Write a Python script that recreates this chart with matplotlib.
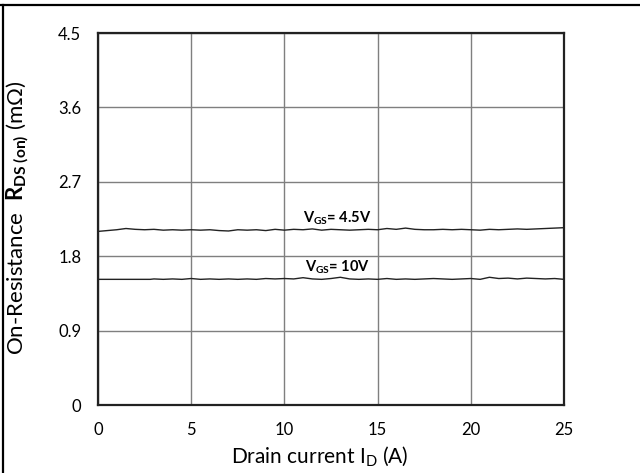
import matplotlib
matplotlib.use("Agg")
import matplotlib.pyplot as plt
from matplotlib.lines import Line2D

plt.rcParams['font.family'] = ['Lato', 'DejaVu Sans']
plt.rcParams['mathtext.fontset'] = 'custom'
plt.rcParams['mathtext.rm'] = 'Lato'
plt.rcParams['mathtext.bf'] = 'Lato:bold'
plt.rcParams['mathtext.it'] = 'Lato:italic'

# Drain current (A)
id_45 = [0.0, 0.5, 1.0, 1.5, 2.0, 2.5, 3.0, 3.5, 4.0, 4.5, 5.0, 5.5, 6.0, 6.5, 7.0,
         7.5, 8.0, 8.5, 9.0, 9.5, 10.0, 10.5, 11.0, 11.5, 12.0, 12.5, 13.0, 13.5,
         14.0, 14.5, 15.0, 15.5, 16.0, 16.5, 17.0, 17.5, 18.0, 18.5, 19.0, 19.5,
         20.0, 20.5, 21.0, 21.5, 22.0, 22.5, 23.0, 23.5, 24.0, 24.5, 25.0]
rds_45 = [2.10, 2.11, 2.12, 2.135, 2.125, 2.12, 2.125, 2.115, 2.12, 2.115, 2.12, 2.115,
          2.12, 2.11, 2.105, 2.12, 2.115, 2.12, 2.11, 2.125, 2.115, 2.125, 2.12, 2.13,
          2.115, 2.125, 2.12, 2.115, 2.12, 2.125, 2.12, 2.135, 2.125, 2.14, 2.125,
          2.12, 2.12, 2.125, 2.12, 2.125, 2.12, 2.115, 2.125, 2.12, 2.125, 2.13,
          2.125, 2.13, 2.135, 2.14, 2.145]
id_10 = [0.0, 2.8, 3.0, 3.5, 4.0, 4.5, 5.0, 5.5, 6.0, 6.5, 7.0, 7.5, 8.0, 8.5, 9.0,
         9.5, 10.0, 10.5, 11.0, 11.5, 12.0, 12.5, 13.0, 13.5, 14.0, 14.5, 15.0, 15.5,
         16.0, 16.5, 17.0, 17.5, 18.0, 18.5, 19.0, 19.5, 20.0, 20.5, 21.0, 21.5,
         22.0, 22.5, 23.0, 23.5, 24.0, 24.5, 25.0]
rds_10 = [1.52, 1.52, 1.525, 1.52, 1.525, 1.52, 1.53, 1.52, 1.525, 1.52, 1.525, 1.52,
          1.525, 1.52, 1.53, 1.525, 1.53, 1.525, 1.54, 1.525, 1.52, 1.53, 1.545, 1.525,
          1.52, 1.525, 1.52, 1.53, 1.52, 1.525, 1.52, 1.525, 1.53, 1.525, 1.52, 1.525,
          1.53, 1.52, 1.545, 1.53, 1.535, 1.525, 1.535, 1.53, 1.525, 1.53, 1.52]

x_ticks = [0, 5, 10, 15, 20, 25]
y_ticks = [0, 0.9, 1.8, 2.7, 3.6, 4.5]
y_tick_labels = ['0', '0.9', '1.8', '2.7', '3.6', '4.5']

W, H = 640, 473
fig = plt.figure(figsize=(6.4, 4.73), dpi=100)
ax = fig.add_axes([98/W, 1-405/H, (564-98)/W, (405-33)/H])

ax.plot(id_45, rds_45, color='#222222', lw=1.0)
ax.plot(id_10, rds_10, color='#222222', lw=1.0)

ax.set_xlim(0, 25)
ax.set_ylim(0, 4.5)
ax.set_xticks(x_ticks)
ax.set_yticks(y_ticks)
ax.set_yticklabels(y_tick_labels)
ax.grid(True, color='#7f7f7f', lw=1.0)
ax.set_axisbelow(True)
ax.tick_params(axis='both', length=0, labelsize=12, colors='black')
ax.tick_params(axis='x', pad=12)
ax.tick_params(axis='y', pad=12)
for s in ax.spines.values():
    s.set_linewidth(1.6)
    s.set_color('#222222')

fig.text(320/W, 1-456/H, r'Drain current $\mathrm{I}_{\mathrm{D}}$ (A)', fontsize=15,
         ha='center', va='center')
fig.text(18/W, 1-218/H, r'On-Resistance  $\mathbf{R}_{\mathbf{DS\ (on)}}$ (mΩ)',
         fontsize=16, ha='center', va='center', rotation=90)

ax.text(11.0, 2.26, r'$\mathbf{V}_{\mathbf{GS}}$' + '= 4.5V', fontsize=10.5,
        fontweight='bold', ha='left', va='center')
ax.text(11.1, 1.66, r'$\mathbf{V}_{\mathbf{GS}}$' + '= 10V', fontsize=10.5,
        fontweight='bold', ha='left', va='center')

fig.add_artist(Line2D([0, 1], [1-5/H, 1-5/H], transform=fig.transFigure,
                      color='black', lw=1.6))
fig.add_artist(Line2D([3/W, 3/W], [0, 1-5/H], transform=fig.transFigure,
                      color='black', lw=1.6))

fig.savefig('out.png', dpi=100)
